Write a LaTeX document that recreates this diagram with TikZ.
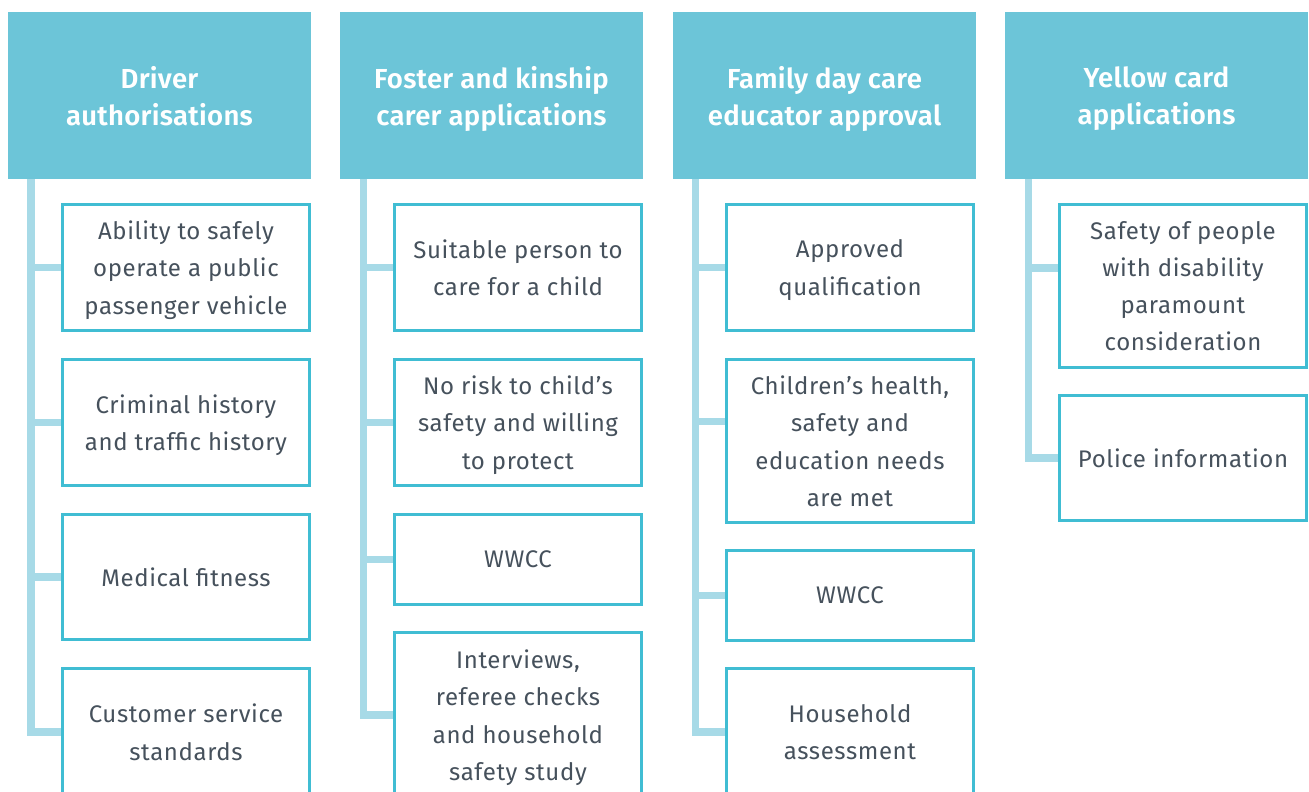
\documentclass[tikz,border=0pt]{standalone}
\usepackage{fontspec}
\setmainfont{Fira Sans}[BoldFont={Fira Sans SemiBold}]
\definecolor{hdr}{HTML}{6CC5D8}
\definecolor{bdr}{HTML}{40BDD3}
\definecolor{conn}{HTML}{A7DAE7}
\definecolor{txt}{HTML}{46515C}
\begin{document}
\begin{tikzpicture}[x=1pt,y=-1pt,
  hdrbox/.style={fill=hdr, minimum width=303pt, minimum height=167pt, anchor=north west, inner sep=0pt, outer sep=0pt, text=white, font=\fontsize{27.5}{37}\selectfont\bfseries\addfontfeatures{LetterSpace=1}, align=center, text depth=-1pt},
  itembox/.style={draw=bdr, line width=2.6pt, fill=white, minimum width=247.4pt, anchor=north west, inner sep=0pt, text=txt, font=\fontsize{24}{37.3}\selectfont\addfontfeatures{LetterSpace=2.5}, align=center, text depth=-2pt},
  link/.style={draw=conn, line width=7.5pt}]
\useasboundingbox (0,0) rectangle (1309,792);
\clip (0,0) rectangle (1309,792);
% spine x positions
\coordinate (s1) at (31,0);
\coordinate (s2) at (363.5,0);
\coordinate (s3) at (695.5,0);
\coordinate (s4) at (1028.5,0);
% headers
\node[hdrbox] (h1) at (8,12) {Driver\\authorisations};
\node[hdrbox] (h2) at (340,12) {Foster and kinship\\carer applications};
\node[hdrbox] (h3) at (673,12) {Family day care\\educator approval};
\node[hdrbox] (h4) at (1005,12) {Yellow card\\applications};
% column 1
\node[itembox, minimum height=126.4pt] (a1) at (61,203) {Ability to safely\\operate a public\\passenger vehicle};
\node[itembox, minimum height=126.4pt] (a2) at (61,358) {Criminal history\\and traffic history};
\node[itembox, minimum height=125.4pt] (a3) at (61,513) {Medical fitness};
\node[itembox, minimum height=127.4pt] (a4) at (61,667) {Customer service\\standards};
% column 2
\node[itembox, minimum height=126.4pt] (b1) at (393,203) {Suitable person to\\care for a child};
\node[itembox, minimum height=126.4pt] (b2) at (393,358) {No risk to child’s\\safety and willing\\to protect};
\node[itembox, minimum height=90.4pt] (b3) at (393,513) {WWCC};
\node[itembox, minimum height=165.4pt] (b4) at (393,631) {Interviews,\\referee checks\\and household\\safety study};
% column 3
\node[itembox, minimum height=126.4pt] (c1) at (725,203) {Approved\\qualification};
\node[itembox, minimum height=163.4pt] (c2) at (725,358) {Children’s health,\\safety and\\education needs\\are met};
\node[itembox, minimum height=90.4pt] (c3) at (725,549) {WWCC};
\node[itembox, minimum height=127.4pt] (c4) at (725,667) {Household\\assessment};
% column 4
\node[itembox, minimum height=163.4pt] (d1) at (1058,203) {Safety of people\\with disability\\paramount\\consideration};
\node[itembox, minimum height=125.4pt] (d2) at (1058,394) {Police information};
% connectors
\draw[link] (h1.south -| s1) |- (a4.west);
\draw[link] (s1 |- a1.west) -- (a1.west);
\draw[link] (s1 |- a2.west) -- (a2.west);
\draw[link] (s1 |- a3.west) -- (a3.west);
\draw[link] (h2.south -| s2) |- (b4.west);
\draw[link] (s2 |- b1.west) -- (b1.west);
\draw[link] (s2 |- b2.west) -- (b2.west);
\draw[link] (s2 |- b3.west) -- (b3.west);
\draw[link] (h3.south -| s3) |- (c4.west);
\draw[link] (s3 |- c1.west) -- (c1.west);
\draw[link] ([yshift=19.5pt]s3 |- c2.west) -- ([yshift=19.5pt]c2.west);
\draw[link] (s3 |- c3.west) -- (c3.west);
\draw[link] (h4.south -| s4) |- (d2.west);
\draw[link] ([yshift=18pt]s4 |- d1.west) -- ([yshift=18pt]d1.west);
\end{tikzpicture}
\end{document}
